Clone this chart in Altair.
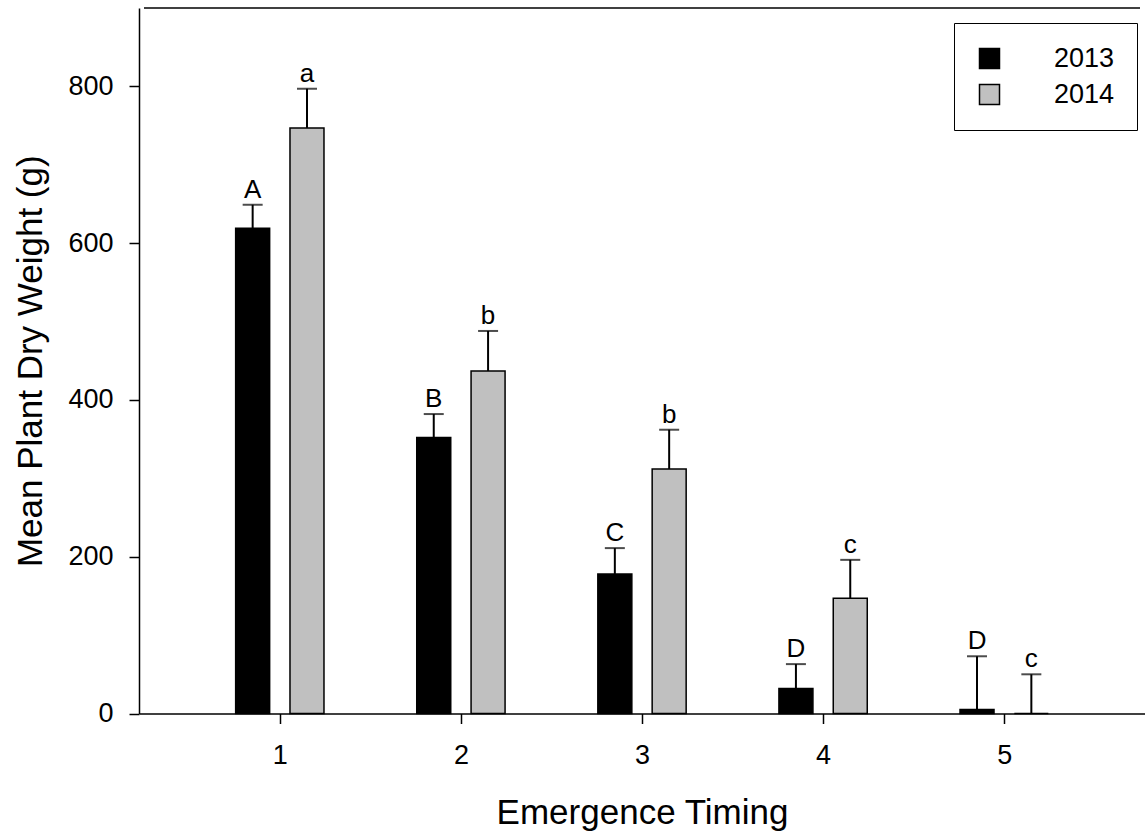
import altair as alt
import pandas as pd

# Emergence timing groups
timing = [1, 2, 3, 4, 5]

# 2013 season: mean dry weight (g), standard error, significance letters
mean_2013 = [619, 352, 178, 32, 5]
se_2013 = [30, 30, 33, 31, 68]
letters_2013 = ["A", "B", "C", "D", "D"]

# 2014 season
mean_2014 = [747, 437, 312, 147, 0]
se_2014 = [50, 51, 50, 49, 50]
letters_2014 = ["a", "b", "b", "c", "c"]

years = ["2013", "2014"]
year_colors = ["#000000", "#c0c0c0"]

# side-by-side placement of the two seasons within each timing group
GROUP_OFFSET = 0.15

rows = []
for year, means, ses, letters, off in [
    ("2013", mean_2013, se_2013, letters_2013, -GROUP_OFFSET),
    ("2014", mean_2014, se_2014, letters_2014, GROUP_OFFSET),
]:
    for t, m, s, lab in zip(timing, means, ses, letters):
        rows.append(dict(timing=t, year=year, pos=t + off, mean=m,
                         upper=m + s, letter=lab))
df = pd.DataFrame(rows)

FONT = "Liberation Sans"
X_MIN, X_MAX = 0.25, 5.75
Y_MAX = 900

x_enc = alt.X(
    "pos:Q",
    scale=alt.Scale(domain=[X_MIN, X_MAX], nice=False, zero=False),
    axis=alt.Axis(
        values=timing, format="d", title="Emergence Timing", grid=False,
        tickSize=10, tickWidth=1.5, tickColor="black",
        domainColor="black", domainWidth=1.5,
        labelFont=FONT, labelFontSize=27, labelColor="black",
        labelBaseline="alphabetic", labelPadding=40,
        titleFont=FONT, titleFontSize=35, titleFontWeight="normal",
        titleColor="black", titleBaseline="alphabetic", titleY=110,
    ),
)

y_scale = alt.Scale(domain=[0, Y_MAX], nice=False)
y_axis = alt.Axis(
    values=[0, 200, 400, 600, 800], title="Mean Plant Dry Weight (g)",
    grid=False, tickSize=10, tickWidth=1.5, tickColor="black",
    domainColor="black", domainWidth=1.5,
    labelFont=FONT, labelFontSize=27, labelColor="black", labelPadding=16,
    titleFont=FONT, titleFontSize=35, titleFontWeight="normal",
    titleColor="black", titleBaseline="alphabetic", titleX=-98,
)

base = alt.Chart(df)

bars = base.mark_bar(size=34, stroke="black", strokeWidth=1.5).encode(
    x=x_enc,
    y=alt.Y("mean:Q", scale=y_scale, axis=y_axis),
    color=alt.Color(
        "year:N",
        scale=alt.Scale(domain=years, range=year_colors),
        legend=alt.Legend(
            title=None, orient="none", legendX=815, legendY=15,
            symbolType="square", symbolSize=400, symbolStrokeColor="black",
            symbolStrokeWidth=1.5, symbolOpacity=1,
            labelFont=FONT, labelFontSize=27, labelColor="black",
            labelOffset=51, rowPadding=8, padding=22,
            strokeColor="black", fillColor="white",
        ),
    ),
)

err = base.mark_rule(color="black", strokeWidth=2).encode(
    x="pos:Q", y="mean:Q", y2="upper:Q"
)

caps = base.mark_tick(orient="horizontal", size=20, thickness=2,
                      color="black").encode(x="pos:Q", y="upper:Q")

letters = base.mark_text(dy=-7, baseline="alphabetic", fontSize=26,
                         font=FONT, color="black").encode(
    x="pos:Q", y="upper:Q", text="letter:N"
)

# upper border of the plotting frame
frame_top = alt.Chart(pd.DataFrame({"edge": [Y_MAX]})).mark_rule(
    color="black", strokeWidth=1.5
).encode(x=alt.datum(X_MIN), x2=alt.datum(X_MAX), y=alt.datum(Y_MAX))

chart = alt.layer(bars, err, caps, letters, frame_top).properties(
    width=1006,
    height=705.5,
    autosize=alt.AutoSizeParams(type="none"),
    padding={"left": 139, "top": 8, "right": 0, "bottom": 119},
    background="white",
).configure_view(strokeWidth=0, strokeOpacity=0)

chart.save("out.html", embed_options={"renderer": "svg", "actions": False})
